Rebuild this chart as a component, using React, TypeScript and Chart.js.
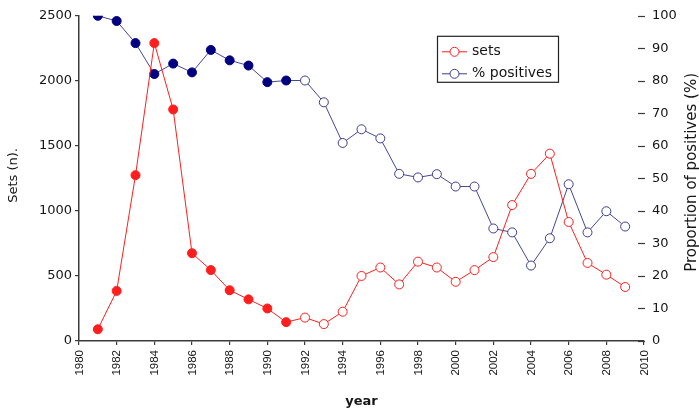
import React, { useEffect, useRef } from "react";
import { Chart, registerables } from "chart.js";

Chart.register(...registerables);

// Survey years and the two series plotted against them
const years = [
  1981, 1982, 1983, 1984, 1985, 1986, 1987, 1988, 1989, 1990,
  1991, 1992, 1993, 1994, 1995, 1996, 1997, 1998, 1999, 2000,
  2001, 2002, 2003, 2004, 2005, 2006, 2007, 2008, 2009,
];

// Number of sets examined per year
const sets = [
  90, 385, 1275, 2290, 1780, 675, 545, 390, 320, 250,
  145, 180, 130, 225, 500, 565, 435, 610, 565, 455,
  545, 645, 1045, 1285, 1440, 915, 600, 510, 415,
];

// Proportion of positive sets (%)
const positives = [
  100, 98.4, 91.6, 82.1, 85.3, 82.6, 89.5, 86.3, 84.7, 79.6,
  80.1, 80.1, 73.4, 60.9, 65.1, 62.3, 51.4, 50.3, 51.3, 47.5,
  47.5, 34.6, 33.4, 23.2, 31.6, 48.2, 33.4, 39.9, 35.2,
];

// Years up to this one are drawn with filled markers
const lastFilledYear = 1991;

const legendLabels = ["sets", "% positives"];
const xTitle = "year";
const leftTitle = "Sets (n).";
const rightTitle = "Proportion of positives (%)";

const RED = "rgb(255,30,30)";
const NAVY = "rgb(0,0,128)";
const BLUE_LINE = "rgb(70,70,150)";
const BLUE_OPEN = "rgb(60,60,145)";
const AXIS = "#3a3a3a";
const TEXT = "#151515";
const FONT = "'DejaVu Sans', sans-serif";

const decorations = {
  id: "decorations",
  afterDraw(chart: any) {
    const { ctx, chartArea } = chart;
    const { left, right, top, bottom } = chartArea;
    const x = chart.scales.x;
    const y1 = chart.scales.y1;

    ctx.save();

    // short dashes just inside the right edge for the percentage axis
    ctx.strokeStyle = AXIS;
    ctx.lineWidth = 1.2;
    y1.ticks.forEach((t: any) => {
      const py = Math.round(y1.getPixelForValue(t.value)) + 0.5;
      ctx.beginPath();
      ctx.moveTo(right - 6, py);
      ctx.lineTo(right + 1, py);
      ctx.stroke();
    });

    // vertical year labels, reading upwards, ending just below the ticks
    ctx.fillStyle = TEXT;
    ctx.font = `11.5px 'Liberation Sans', sans-serif`;
    ctx.textAlign = "right";
    ctx.textBaseline = "middle";
    x.ticks.forEach((t: any) => {
      const px = x.getPixelForValue(t.value);
      ctx.save();
      ctx.translate(px + 0.5, bottom + 9);
      ctx.rotate(-Math.PI / 2);
      ctx.fillText(String(t.value), 0, 0);
      ctx.restore();
    });

    // axis titles
    ctx.textAlign = "center";
    ctx.textBaseline = "middle";

    ctx.font = `bold 13px ${FONT}`;
    ctx.fillText(xTitle, (left + right) / 2, bottom + 61);

    ctx.save();
    ctx.translate(left - 65, (top + bottom) / 2 - 3);
    ctx.rotate(-Math.PI / 2);
    ctx.font = `13px ${FONT}`;
    ctx.fillText(leftTitle, 0, 0);
    ctx.restore();

    ctx.save();
    ctx.translate(right + 48, (top + bottom) / 2 - 6);
    ctx.rotate(-Math.PI / 2);
    ctx.font = `15px ${FONT}`;
    ctx.fillText(rightTitle, 0, 0);
    ctx.restore();

    // framed legend
    const bx = left + 358;
    const by = top + 20;
    const bw = 121;
    const bh = 46;
    ctx.fillStyle = "#ffffff";
    ctx.fillRect(bx, by, bw, bh);
    ctx.strokeStyle = "#222";
    ctx.lineWidth = 1.2;
    ctx.strokeRect(bx + 0.5, by + 0.5, bw, bh);

    const rows = [
      { label: legendLabels[0], color: RED, y: by + 16 },
      { label: legendLabels[1], color: BLUE_OPEN, y: by + 38 },
    ];
    rows.forEach((r) => {
      ctx.strokeStyle = r.color;
      ctx.lineWidth = 1;
      ctx.beginPath();
      ctx.moveTo(bx + 5, r.y);
      ctx.lineTo(bx + 30, r.y);
      ctx.stroke();
      ctx.beginPath();
      ctx.arc(bx + 17.5, r.y, 4.5, 0, Math.PI * 2);
      ctx.fillStyle = "#fff";
      ctx.fill();
      ctx.stroke();
      ctx.fillStyle = TEXT;
      ctx.font = `14px ${FONT}`;
      ctx.textAlign = "left";
      ctx.fillText(r.label, bx + 35, r.y);
    });

    ctx.restore();
  },
};

export default function App() {
  const canvasRef = useRef<HTMLCanvasElement | null>(null);

  useEffect(() => {
    document.body.style.margin = "0";
    const canvas = canvasRef.current;
    if (!canvas) return;

    const filled = years.map((y) => y <= lastFilledYear);

    const chart = new Chart(canvas, {
      type: "line",
      data: {
        datasets: [
          {
            label: legendLabels[0],
            data: years.map((x, i) => ({ x, y: sets[i] })),
            yAxisID: "y",
            borderColor: RED,
            borderWidth: 1,
            pointRadius: 4.5,
            pointBorderWidth: 1,
            pointBorderColor: RED,
            pointBackgroundColor: filled.map((f) => (f ? RED : "#ffffff")),
            tension: 0,
          },
          {
            label: legendLabels[1],
            data: years.map((x, i) => ({ x, y: positives[i] })),
            yAxisID: "y1",
            borderColor: BLUE_LINE,
            borderWidth: 1,
            pointRadius: 4.5,
            pointBorderWidth: 1,
            pointBorderColor: filled.map((f) => (f ? NAVY : BLUE_OPEN)),
            pointBackgroundColor: filled.map((f) => (f ? NAVY : "#ffffff")),
            tension: 0,
          },
        ],
      },
      options: {
        animation: false,
        responsive: true,
        maintainAspectRatio: false,
        layout: { padding: { top: 14, left: 0, right: 0, bottom: 0 } },
        plugins: {
          legend: { display: false },
          tooltip: { enabled: false },
        },
        scales: {
          x: {
            type: "linear",
            min: 1980,
            max: 2010,
            afterFit: (s: any) => {
              s.height = 74;
            },
            border: { display: true, color: AXIS, width: 1.5 },
            grid: {
              display: true,
              drawOnChartArea: false,
              drawTicks: true,
              tickLength: 4,
              color: AXIS,
              lineWidth: 1.2,
            },
            ticks: {
              stepSize: 2,
              display: false,
            },
          },
          y: {
            type: "linear",
            position: "left",
            min: 0,
            max: 2500,
            afterFit: (s: any) => {
              s.width = 79;
            },
            border: { display: true, color: AXIS, width: 1.5 },
            grid: {
              display: true,
              drawOnChartArea: false,
              drawTicks: true,
              tickLength: 4,
              color: AXIS,
              lineWidth: 1.2,
            },
            ticks: {
              stepSize: 500,
              padding: 3,
              color: TEXT,
              font: { family: FONT, size: 13 },
              callback: (v: any) => String(v),
            },
          },
          y1: {
            type: "linear",
            position: "right",
            min: 0,
            max: 100,
            afterFit: (s: any) => {
              s.width = 55;
            },
            border: { display: false },
            grid: { display: false, drawTicks: false },
            ticks: {
              stepSize: 10,
              padding: 8,
              color: TEXT,
              font: { family: FONT, size: 13 },
              callback: (v: any) => String(v),
            },
          },
        },
      },
      plugins: [decorations],
    });

    return () => chart.destroy();
  }, []);

  return (
    <div style={{ position: "relative", width: 699, height: 415 }}>
      <canvas ref={canvasRef} />
    </div>
  );
}
